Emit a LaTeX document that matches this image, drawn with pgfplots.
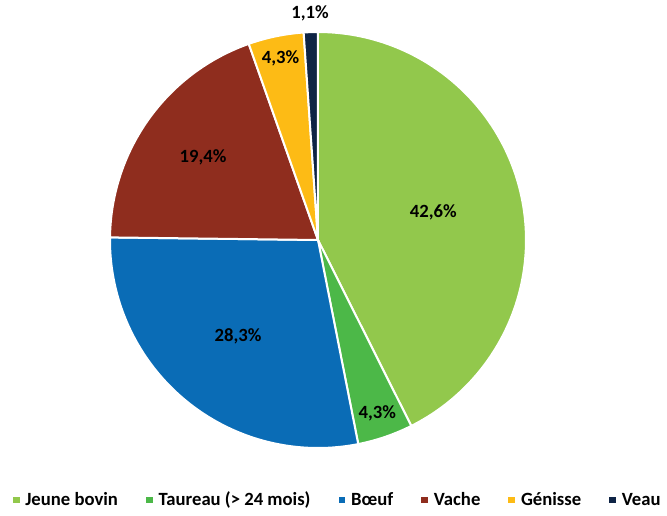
\documentclass[border=0pt]{standalone}
\usepackage{pgfplots}
\pgfplotsset{compat=1.18}
\usepgfplotslibrary{polar}
\usepackage{fontspec}
\setmainfont{Carlito}
\definecolor{cjb}{HTML}{92C84C}
\definecolor{cta}{HTML}{4CB848}
\definecolor{cbo}{HTML}{0A6CB6}
\definecolor{cva}{HTML}{8F2D1E}
\definecolor{cge}{HTML}{FDBB15}
\definecolor{cve}{HTML}{0E2445}
% shares (%): Jeune bovin 42.6, Taureau 4.3, Boeuf 28.3, Vache 19.4, Genisse 4.3, Veau 1.1
% slices run clockwise from 90 deg, 1% = 3.6 deg
\begin{document}
\begin{tikzpicture}
\path[use as bounding box] (-238.5pt,180pt) rectangle (261.75pt,-206.25pt);
\begin{polaraxis}[
  name=pie, at={(0,0)}, anchor=center,
  hide axis, scale only axis, width=312pt, height=312pt,
  xmin=0, xmax=360, ymin=0, ymax=1,
  clip=false,
  font=\fontsize{14}{16}\selectfont\bfseries,
  legend columns=6,
  legend style={draw=none, fill=none, at={(0.548,-0.125)}, anchor=center,
    font=\fontsize{14}{16}\selectfont\bfseries,
    /tikz/every odd column/.append style={column sep=2.3pt},
    /tikz/every even column/.append style={column sep=19pt},
    legend cell align=left},
  legend image code/.code={\fill[#1,draw=none] (0pt,-2.6pt) rectangle (5.2pt,2.6pt);},
]
\addplot[fill=cjb, draw=white, line width=1.5pt, domain=-63.36:90, samples=120] {1} -- (axis cs:0,0) -- cycle;
\addlegendentry{Jeune bovin}
\addplot[fill=cta, draw=white, line width=1.5pt, domain=-78.84:-63.36, samples=20] {1} -- (axis cs:0,0) -- cycle;
\addlegendentry{Taureau (> 24 mois)}
\addplot[fill=cbo, draw=white, line width=1.5pt, domain=-180.72:-78.84, samples=90] {1} -- (axis cs:0,0) -- cycle;
\addlegendentry{Bœuf}
\addplot[fill=cva, draw=white, line width=1.5pt, domain=-250.56:-180.72, samples=60] {1} -- (axis cs:0,0) -- cycle;
\addlegendentry{Vache}
\addplot[fill=cge, draw=white, line width=1.5pt, domain=-266.04:-250.56, samples=20] {1} -- (axis cs:0,0) -- cycle;
\addlegendentry{Génisse}
\addplot[fill=cve, draw=white, line width=1.5pt, domain=-270:-266.04, samples=10] {1} -- (axis cs:0,0) -- cycle;
\addlegendentry{Veau}
\node at (axis cs:13.3,0.57) {42,6\%};
\node at (axis cs:-71.1,0.88) {4,3\%};
\node at (axis cs:-129.8,0.6) {28,3\%};
\node at (axis cs:-215.6,0.68) {19,4\%};
\node at (axis cs:-258.3,0.89) {4,3\%};
\node at (axis cs:-268,1.09) {1,1\%};
\end{polaraxis}
\end{tikzpicture}
\end{document}
